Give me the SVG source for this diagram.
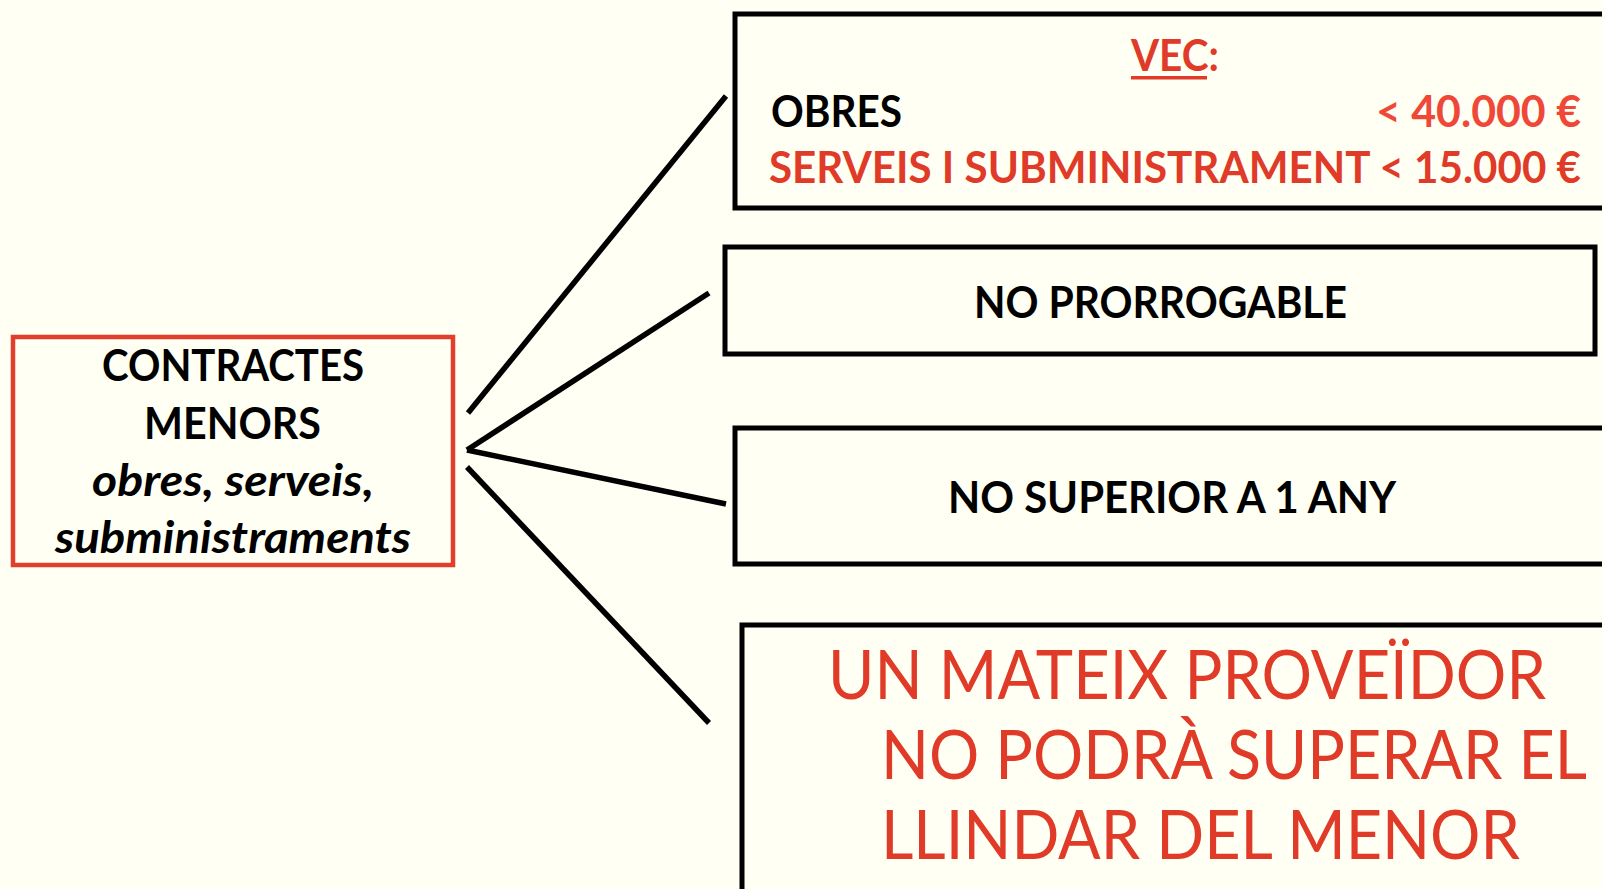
<svg xmlns="http://www.w3.org/2000/svg" width="1602" height="889" viewBox="0 0 1602 889">
<style>
.bg{fill:#fffff3}
.box{fill:#fffff3;stroke:#000;stroke-width:5}
.rbox{fill:#fffff3;stroke:#e23e2c;stroke-width:4.5}
.b{font-family:Lato,"Open Sans",sans-serif;font-weight:bold;font-size:43px}
.bi{font-family:Lato,"Open Sans",sans-serif;font-weight:bold;font-style:italic;font-size:43px}
.r{font-family:Lato,"Open Sans",sans-serif;font-size:68px;fill:#e03a28}
.k{fill:#000}
.red{fill:#e03a28}
.red2{fill:#f04838}
.conn line{stroke:#000;stroke-width:5.5}
</style>
<rect class="bg" x="0" y="0" width="1602" height="889"/>
<g id="conn" class="conn">
<line x1="468" y1="413" x2="726" y2="96"/>
<line x1="467" y1="450" x2="709" y2="293"/>
<line x1="467" y1="450" x2="726" y2="504"/>
<line x1="467" y1="467" x2="709" y2="723"/>
</g>
<g id="main">
<rect class="rbox" x="13" y="337" width="440" height="228"/>
<text class="b k" x="102" y="381" textLength="262" lengthAdjust="spacingAndGlyphs">CONTRACTES</text>
<text class="b k" x="144" y="439" textLength="177" lengthAdjust="spacingAndGlyphs">MENORS</text>
<text class="bi k" x="92" y="496" textLength="282" lengthAdjust="spacingAndGlyphs">obres, serveis,</text>
<text class="bi k" x="55" y="553" textLength="356" lengthAdjust="spacingAndGlyphs">subministraments</text>
</g>
<g id="vec">
<rect class="box" x="735" y="14" width="900" height="194"/>
<text class="b red" x="1131" y="71" textLength="88" lengthAdjust="spacingAndGlyphs">VEC:</text>
<rect class="red" x="1131" y="76" width="76" height="3.5"/>
<text class="b k" x="771" y="127" textLength="131" lengthAdjust="spacingAndGlyphs">OBRES</text>
<text class="b red2" x="1376" y="127" textLength="205" lengthAdjust="spacingAndGlyphs">&lt; 40.000 €</text>
<text class="b red" x="769" y="183" textLength="812" lengthAdjust="spacingAndGlyphs">SERVEIS I SUBMINISTRAMENT &lt; 15.000 €</text>
</g>
<g id="prorrogable">
<rect class="box" x="725" y="247" width="870" height="107"/>
<text class="b k" x="974" y="318" textLength="373" lengthAdjust="spacingAndGlyphs">NO PRORROGABLE</text>
</g>
<g id="any">
<rect class="box" x="735" y="428" width="900" height="136"/>
<text class="b k" x="948" y="513" textLength="448" lengthAdjust="spacingAndGlyphs">NO SUPERIOR A 1 ANY</text>
</g>
<g id="proveidor">
<rect class="box" x="742" y="625" width="900" height="300"/>
<text class="r" x="828" y="699" textLength="718" lengthAdjust="spacingAndGlyphs">UN MATEIX PROVEÏDOR</text>
<text class="r" x="881" y="779" textLength="706" lengthAdjust="spacingAndGlyphs">NO PODRÀ SUPERAR EL</text>
<text class="r" x="881" y="859" textLength="639" lengthAdjust="spacingAndGlyphs">LLINDAR DEL MENOR</text>
</g>
</svg>
